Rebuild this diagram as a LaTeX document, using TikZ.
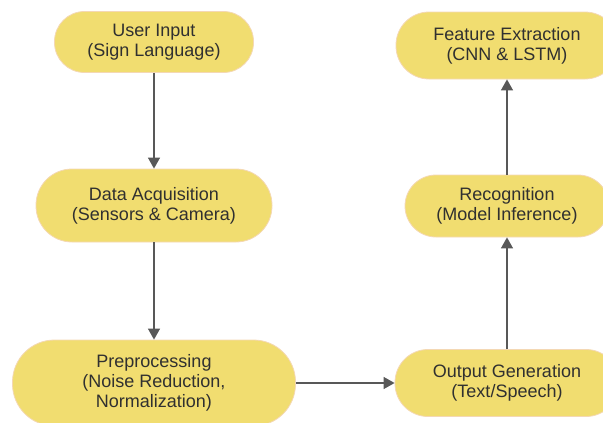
\documentclass[tikz,border=0pt]{standalone}
\usepackage{fontspec}
\setmainfont{Liberation Sans}
\usepackage{xcolor}
\usepackage{tikz}
\usetikzlibrary{arrows.meta, positioning}
\definecolor{myyellow}{RGB}{241,221,112}
\definecolor{myedge}{RGB}{244,216,180}
\definecolor{mygray}{RGB}{88,88,88}
\definecolor{mytext}{RGB}{48,48,48}
\tikzstyle{arrow} = [line width=1.3pt, draw=mygray, -{Triangle[width=12pt,length=11pt]}, color=mygray]

\begin{document}
\begin{tikzpicture}[x=1pt, y=-1pt, stage/.style={rectangle, align=center, fill=myyellow, draw=myedge, line width=0.8pt, text=mytext, inner sep=0pt, font=\fontsize{18}{20}\selectfont}]
    \useasboundingbox (0,0) rectangle (603,423);
    \clip (0,0) rectangle (603,423);
    \node[stage, minimum width=199pt, minimum height=61pt, rounded corners=30pt] (input) at (154,42) {User Input\\(Sign Language)};
    \node[stage, minimum width=236pt, minimum height=73pt, rounded corners=36pt] (acq) at (154,205.5) {Data Acquisition\\(Sensors \& Camera)};
    \node[stage, minimum width=283pt, minimum height=86pt, rounded corners=42pt] (prep) at (154,383) {Preprocessing\\(Noise Reduction,\\Normalization)};
    \node[stage, minimum width=224pt, minimum height=67pt, rounded corners=33pt] (out) at (507,383) {Output Generation\\(Text/Speech)};
    \node[stage, minimum width=204pt, minimum height=62pt, rounded corners=31pt] (recog) at (507,206) {Recognition\\(Model Inference)};
    \node[stage, minimum width=222pt, minimum height=67pt, rounded corners=33pt] (feat) at (507,45.5) {Feature Extraction\\(CNN \& LSTM)};
    \draw[arrow] (input) -- (acq);
    \draw[arrow] (acq) -- (prep);
    \draw[arrow] (prep) -- (out);
    \draw[arrow] (out) -- (recog);
    \draw[arrow] (recog) -- (feat);
\end{tikzpicture}
\end{document}
